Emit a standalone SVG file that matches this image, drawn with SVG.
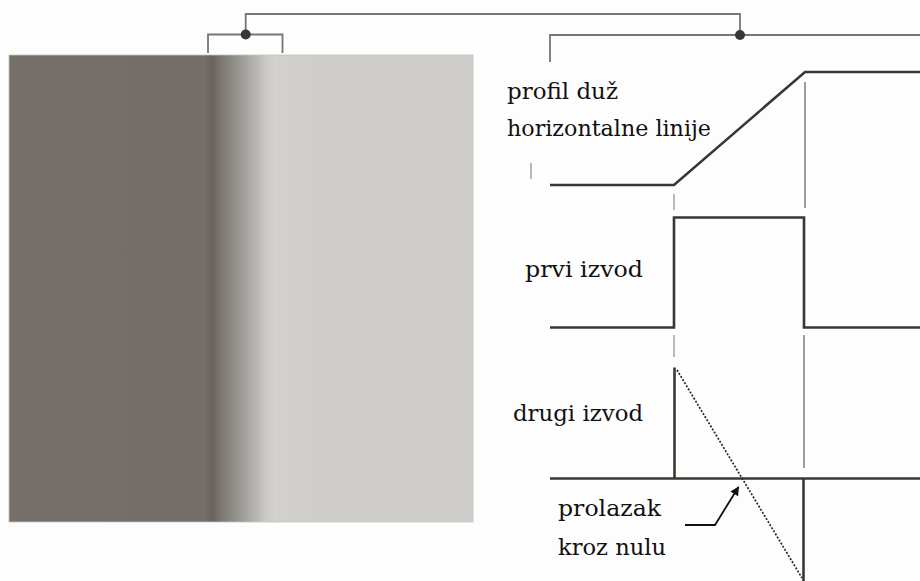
<svg xmlns="http://www.w3.org/2000/svg" width="920" height="581" viewBox="0 0 920 581">
  <style>
    .lbl { font-family: "DejaVu Serif", "Liberation Serif", serif; font-size: 22px; fill: #111; }
    .thick { stroke: #3b3631; stroke-width: 2.6; fill: none; stroke-linejoin: miter; }
    .thin { stroke: #8a8580; stroke-width: 1.6; fill: none; }
    .tick { stroke: #aaa6a2; stroke-width: 1.6; fill: none; }
    .brk { stroke: #7a7570; stroke-width: 1.8; fill: none; }
    .dot { fill: #3b3631; }
  </style>
  <defs>
    <linearGradient id="edge" gradientUnits="userSpaceOnUse" x1="9" y1="0" x2="473" y2="0">
      <stop offset="0" stop-color="#766e68"/>
      <stop offset="0.422" stop-color="#756d68"/>
      <stop offset="0.44" stop-color="#6a645e"/>
      <stop offset="0.459" stop-color="#7d7a74"/>
      <stop offset="0.498" stop-color="#9a9894"/>
      <stop offset="0.530" stop-color="#b5b4b1"/>
      <stop offset="0.554" stop-color="#cbcac7"/>
      <stop offset="0.575" stop-color="#d3d2cf"/>
      <stop offset="0.606" stop-color="#cfcecb"/>
      <stop offset="1" stop-color="#cdccc9"/>
    </linearGradient>
    <marker id="arr" viewBox="0 0 10 10" refX="9" refY="5" markerWidth="6" markerHeight="5" orient="auto" markerUnits="strokeWidth">
      <path d="M0,0 L10,5 L0,10 z" fill="#111"/>
    </marker>
  </defs>
  <rect x="0" y="0" width="920" height="581" fill="#fdfdfd"/>

  <g id="image">
    <rect x="9" y="55" width="464" height="467" fill="url(#edge)" stroke="#c4c2bf" stroke-width="0.8"/>
  </g>

  <g id="connectors">
    <polyline class="brk" points="245.7,34.5 245.7,14 740,14 740,35"/>
    <polyline class="brk" points="208,53 208,34.5 282.5,34.5 282.5,53"/>
    <polyline class="brk" points="550,62 550,35 920,35"/>
    <circle class="dot" cx="245.7" cy="34.5" r="5"/>
    <circle class="dot" cx="740" cy="35" r="5"/>
  </g>

  <g id="profile">
    <polyline class="thick" points="550,185 674,185 805,72 920,72"/>
    <line class="thin" x1="805" y1="82" x2="805" y2="208"/>
    <line class="tick" x1="531" y1="163" x2="531" y2="179"/>
    <line class="tick" x1="674" y1="194" x2="674" y2="210"/>
    <text class="lbl" x="507" y="99" textLength="111" lengthAdjust="spacingAndGlyphs">profil duž</text>
    <text class="lbl" x="507" y="136" textLength="204" lengthAdjust="spacingAndGlyphs">horizontalne linije</text>
  </g>

  <g id="first-derivative">
    <polyline class="thick" points="550,327.5 674,327.5 674,217.5 804,217.5 804,327.5 920,327.5"/>
    <line class="tick" x1="674" y1="335" x2="674" y2="357"/>
    <line class="thin" x1="804" y1="335" x2="804" y2="468"/>
    <text class="lbl" x="525" y="277" textLength="118" lengthAdjust="spacingAndGlyphs">prvi izvod</text>
  </g>

  <g id="second-derivative">
    <line class="thick" x1="550" y1="478.5" x2="920" y2="478.5"/>
    <line class="thick" x1="674.5" y1="367.5" x2="674.5" y2="478.5"/>
    <line class="thick" x1="803.5" y1="478.5" x2="803.5" y2="581"/>
    <line x1="677" y1="370" x2="802" y2="578" stroke="#2a2622" stroke-width="1.7" stroke-dasharray="2,1.6"/>
    <text class="lbl" x="513" y="421" textLength="130" lengthAdjust="spacingAndGlyphs">drugi izvod</text>
  </g>

  <g id="zero-crossing">
    <polyline points="685,525 715,525 738.5,487" fill="none" stroke="#111" stroke-width="1.8" marker-end="url(#arr)"/>
    <text class="lbl" x="558" y="516" textLength="103" lengthAdjust="spacingAndGlyphs">prolazak</text>
    <text class="lbl" x="558" y="555" textLength="108" lengthAdjust="spacingAndGlyphs">kroz nulu</text>
  </g>
</svg>
